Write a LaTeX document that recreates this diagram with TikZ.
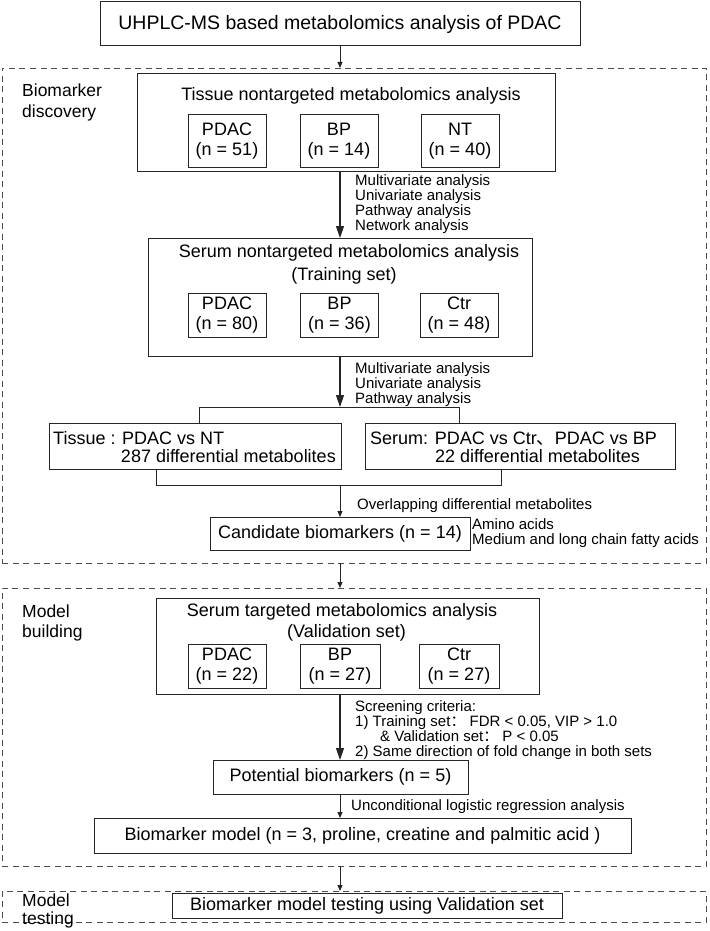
\documentclass[tikz,border=0pt]{standalone}
\usepackage{fontspec}
\setmainfont{Liberation Sans}
\newfontfamily\cjkfont{Noto Sans CJK SC}
\usetikzlibrary{arrows.meta}

\newcommand{\titlefont}{\fontsize{19.5}{22}\selectfont}
\newcommand{\boxfont}{\fontsize{18}{20}\selectfont}
\newcommand{\notefont}{\fontsize{15}{15}\selectfont}
\newcommand{\stagefont}{\fontsize{17.5}{21}\selectfont}

\tikzset{
  box/.style={draw=black!85, line width=1pt, inner sep=0pt, outer sep=0pt},
  boxtext/.style={inner sep=0pt, font=\boxfont, text height=13pt, text depth=4pt},
  subbox/.style={box, minimum width=78pt, minimum height=44pt, align=center, font=\boxfont},
  group/.style={draw=black!70, line width=0.9pt, dash pattern=on 6pt off 4.5pt, inner sep=0pt, outer sep=0pt},
  stage/.style={inner sep=0pt, anchor=north west, align=left, font=\stagefont},
  note/.style={inner sep=0pt, anchor=north west, align=left, font=\notefont},
  link/.style={draw=black!85, line width=1pt},
  bigtip/.style={link, line width=1.2pt, -{Triangle[length=12pt, width=8pt]}},
  smalltip/.style={link, -{Triangle[length=6pt, width=5pt]}},
}

\begin{document}
\begin{tikzpicture}[x=1pt,y=-1pt]
\useasboundingbox (0,0) rectangle (709,931);

\node[group, minimum width=704pt, minimum height=495pt] (discovery) at (354,315.5) {};
\node[group, minimum width=704pt, minimum height=278pt] (building) at (354,727) {};
\node[group, minimum width=704pt, minimum height=31pt] (testing) at (354,906.5) {};

\node[stage] (discoverylbl) at (22,83.5) {Biomarker\\discovery};
\node[stage, font=\fontsize{17.5}{20}\selectfont] (buildinglbl) at (22,604.5) {Model\\building};
\node[stage, font=\fontsize{17.5}{18}\selectfont] (testinglbl) at (22,893.5) {Model\\testing};

\node[box, minimum width=480pt, minimum height=44pt, font=\titlefont] (head) at (340,24) {UHPLC-MS based metabolomics analysis of PDAC};

\node[box, minimum width=418pt, minimum height=97pt] (tissue) at (346,122.5) {};
\node[boxtext] (tissuetitle) at (351,96) {Tissue nontargeted metabolomics analysis};
\node[subbox, minimum height=52pt] (tpdac) at (227,141) {PDAC\\(n = 51)};
\node[subbox, minimum height=52pt] (tbp) at (339,141) {BP\\(n = 14)};
\node[subbox, minimum height=52pt] (tnt) at (460,141) {NT\\(n = 40)};

\node[box, minimum width=384pt, minimum height=118pt] (serum) at (340,297) {};
\node[boxtext] (serumtitle) at (349,253) {Serum nontargeted metabolomics analysis};
\node[boxtext] (serumset) at (344,276) {(Training set)};
\node[subbox] (spdac) at (227,315) {PDAC\\(n = 80)};
\node[subbox] (sbp) at (339.5,315) {BP\\(n = 36)};
\node[subbox] (sctr) at (459,315) {Ctr\\(n = 48)};

\node[box, minimum width=292pt, minimum height=46pt] (tissueres) at (195,446) {};
\node[boxtext, anchor=west] (tissuecmp) at (53,440) {Tissue : PDAC vs NT};
\node[boxtext, anchor=east] (tissuenum) at (336,458) {287 differential metabolites};
\node[box, minimum width=310pt, minimum height=46pt] (serumres) at (520,446) {};
\node[boxtext, anchor=west] (serumcmp) at (370,440) {Serum: PDAC vs Ctr{\cjkfont 、}PDAC vs BP};
\node[boxtext, anchor=west] (serumnum) at (435,458) {22 differential metabolites};

\node[box, minimum width=260pt, minimum height=33pt, font=\boxfont] (candidate) at (340,533.5) {Candidate biomarkers (n = 14)};
\node[note] (classes) at (472,518.4) {Amino acids\\Medium and long chain fatty acids};

\node[box, minimum width=383pt, minimum height=96pt] (target) at (347.5,646) {};
\node[boxtext] (targettitle) at (342,612) {Serum targeted metabolomics analysis};
\node[boxtext] (targetset) at (346.5,633) {(Validation set)};
\node[subbox] (vpdac) at (227,666) {PDAC\\(n = 22)};
\node[subbox, minimum width=80pt] (vbp) at (340,666) {BP\\(n = 27)};
\node[subbox, minimum width=80pt] (vctr) at (459,666) {Ctr\\(n = 27)};

\node[box, minimum width=255pt, minimum height=34pt, font=\boxfont] (potential) at (340.5,777) {Potential biomarkers (n = 5)};
\node[box, minimum width=537pt, minimum height=35pt, font=\boxfont] (model) at (362.5,835.5) {Biomarker model (n = 3, proline, creatine and palmitic acid )};
\node[box, minimum width=390pt, minimum height=25pt, font=\boxfont] (modeltest) at (367,905.5) {Biomarker model testing using Validation set};

\node[note] (steps1) at (355,174.4) {Multivariate analysis\\Univariate analysis\\Pathway analysis\\Network analysis};
\node[note] (steps2) at (355,362.4) {Multivariate analysis\\Univariate analysis\\Pathway analysis};
\node[note] (overlap) at (357,498.4) {Overlapping differential metabolites};
\node[note] (criteria) at (355,700.4) {Screening criteria:\\1) Training set{\cjkfont ：}\ FDR < 0.05, VIP > 1.0\\\hspace*{25pt}\& Validation set{\cjkfont ：}\ P < 0.05\\2) Same direction of fold change in both sets};
\node[note] (regression) at (351,799.4) {Unconditional logistic regression analysis};

\coordinate (forkL) at (199,407);
\coordinate (forkR) at (459,407);
\coordinate (joinL) at (156,485);
\coordinate (joinR) at (501,485);

\draw[smalltip] (head.south) -- (head.south |- discovery.north);
\draw[bigtip] (tissue.south -| head.south) -- (serum.north -| head.south);
\draw[bigtip] (serum.south) -- (serum.south |- forkL);
\draw[link] (tissueres.north -| forkL) |- (forkR) -- (serumres.north -| forkR);
\draw[link] (tissueres.south -| joinL) |- (joinR) -- (serumres.south -| joinR);
\draw[smalltip] (candidate.north |- joinL) -- (candidate.north);
\draw[smalltip] (discovery.south -| head.south) -- (building.north -| head.south);
\draw[bigtip] (target.south -| head.south) -- (potential.north -| head.south);
\draw[smalltip] (potential.south -| head.south) -- (model.north -| head.south);
\draw[smalltip] (building.south -| head.south) -- (testing.north -| head.south);
\end{tikzpicture}
\end{document}
